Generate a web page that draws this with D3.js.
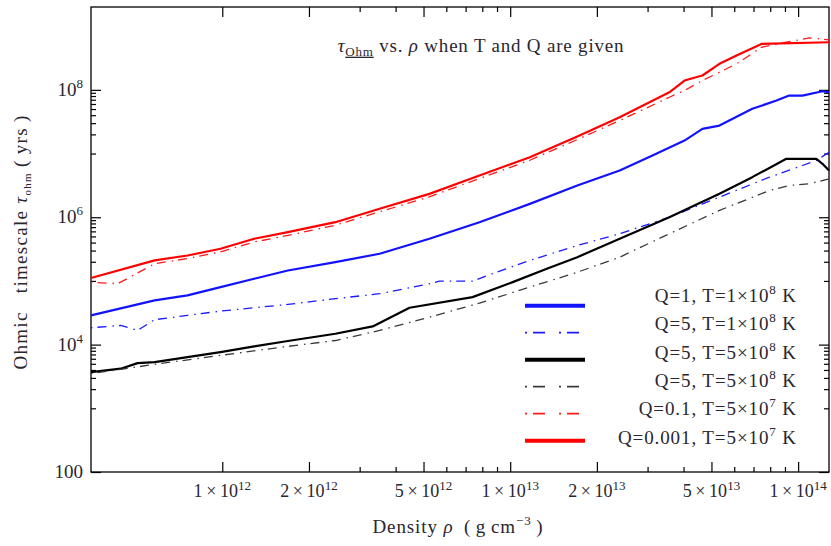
<!DOCTYPE html>
<html>
<head>
<meta charset="utf-8">
<script src="https://cdn.jsdelivr.net/npm/d3@7"></script>
<style>
  body { margin: 0; background: #fff; }
  svg text { font-family: 'Liberation Serif', 'DejaVu Serif', serif; fill: #2a2630; }
</style>
</head>
<body>
<script>
(function () {
    'use strict';

    const width = 831;
    const height = 546;
    const margin = {top: 7, left: 91, right: 2, bottom: 74};

    // series: [density g/cm^3, tau yrs]
    const blueSolid = [
        [3.5e11, 2.88e4], [5.82e11, 4.94e4], [7.57e11, 5.92e4], [9.86e11, 8.0e4],
        [1.29e12, 1.08e5], [1.69e12, 1.46e5], [2.47e12, 1.97e5], [3.52e12, 2.67e5],
        [5.24e12, 4.59e5], [7.82e12, 8.36e5], [1.17e13, 1.62e6], [1.71e13, 3.15e6],
        [2.40e13, 5.42e6], [3.12e13, 9.31e6], [4.03e13, 1.60e7], [4.65e13, 2.44e7],
        [5.33e13, 2.75e7], [6.93e13, 5.04e7], [8.41e13, 6.79e7], [9.31e13, 8.14e7],
        [1.035e14, 8.14e7], [1.215e14, 9.50e7], [1.28e14, 9.17e7]
    ];
    const blueDash = [
        [3.5e11, 1.84e4], [4.44e11, 2.0e4], [5.08e11, 1.67e4], [5.82e11, 2.46e4],
        [7.57e11, 2.88e4], [9.86e11, 3.36e4], [1.29e12, 3.79e4], [1.69e12, 4.28e4],
        [2.47e12, 5.26e4], [3.52e12, 6.3e4], [5.24e12, 9.04e4], [5.68e12, 9.93e4],
        [7.40e12, 9.93e4], [8.95e12, 1.37e5], [1.17e13, 2.10e5], [1.71e13, 3.61e5],
        [2.40e13, 5.5e5], [3.57e13, 1.0e6], [5.33e13, 2.07e6], [7.95e13, 4.26e6],
        [1.035e14, 6.49e6], [1.157e14, 7.78e6], [1.28e14, 1.05e7]
    ];
    const blackSolid = [
        [3.5e11, 3.71e3], [4.44e11, 4.19e3], [5.08e11, 5.13e3], [5.82e11, 5.32e3],
        [7.57e11, 6.37e3], [9.86e11, 7.64e3], [1.29e12, 9.38e3], [1.69e12, 1.14e4],
        [2.47e12, 1.48e4], [3.33e12, 1.93e4], [4.47e12, 3.79e4], [7.40e12, 5.57e4],
        [1.02e13, 9.57e4], [1.34e13, 1.55e5], [1.71e13, 2.36e5], [2.40e13, 4.59e5],
        [3.57e13, 1.0e6], [5.33e13, 2.33e6], [6.93e13, 4.26e6], [9.10e13, 8.26e6],
        [1.035e14, 8.26e6], [1.157e14, 8.26e6], [1.215e14, 6.9e6], [1.28e14, 5.42e6]
    ];
    const blackDash = [
        [3.5e11, 3.50e3], [5.82e11, 4.9e3], [9.86e11, 6.78e3], [1.69e12, 9.38e3],
        [2.47e12, 1.16e4], [3.52e12, 1.67e4], [5.24e12, 2.70e4], [7.82e12, 4.48e4],
        [1.17e13, 8.0e4], [1.71e13, 1.37e5], [2.40e13, 2.36e5], [3.57e13, 5.5e5],
        [5.33e13, 1.28e6], [7.95e13, 2.63e6], [9.31e13, 3.15e6], [1.094e14, 3.35e6],
        [1.28e14, 4.01e6]
    ];
    const redDash = [
        [3.5e11, 9.57e4], [4.33e11, 9.04e4], [5.82e11, 1.86e5], [7.57e11, 2.25e5],
        [9.86e11, 2.85e5], [1.29e12, 4.09e5], [1.69e12, 5.18e5], [2.47e12, 7.5e5],
        [3.52e12, 1.22e6], [5.24e12, 2.09e6], [7.82e12, 4.06e6], [1.17e13, 7.85e6],
        [1.71e13, 1.66e7], [2.40e13, 3.30e7], [3.57e13, 7.66e7], [4.03e13, 9.75e7],
        [4.65e13, 1.40e8], [6.11e13, 2.56e8], [7.46e13, 4.66e8], [9.10e13, 5.59e8],
        [1.094e14, 6.55e8], [1.28e14, 6.09e8]
    ];
    const redSolid = [
        [3.5e11, 1.11e5], [5.82e11, 2.10e5], [7.57e11, 2.51e5], [9.86e11, 3.20e5],
        [1.29e12, 4.59e5], [1.69e12, 5.83e5], [2.47e12, 8.36e5], [3.52e12, 1.36e6],
        [5.24e12, 2.33e6], [7.82e12, 4.52e6], [1.17e13, 8.75e6], [1.71e13, 1.85e7],
        [2.40e13, 3.72e7], [3.57e13, 9.17e7], [4.03e13, 1.40e8], [4.65e13, 1.68e8],
        [5.33e13, 2.56e8], [6.11e13, 3.45e8], [7.46e13, 5.27e8], [1.28e14, 5.59e8]
    ];

    // legend order = series order
    const seriesData = [blueSolid, blueDash, blackSolid, blackDash, redDash, redSolid];
    const seriesColor = ["#1212ff", "#1a1aff", "#000000", "#3a3a3a", "#ff1a1a", "#ff0000"];
    const seriesDashed = [false, true, false, true, true, false];
    const legendQ = ["1", "5", "5", "5", "0.1", "0.001"];
    const legendTMant = ["1", "1", "5", "5", "5", "5"];
    const legendTExp = ["8", "8", "8", "8", "7", "7"];

    const xDomain = [3.5e11, 1.28e14];
    const yDomain = [100, 2e9];
    const xMajor = [1e12, 2e12, 5e12, 1e13, 2e13, 5e13, 1e14];
    const xMinor = [3e12, 4e12, 6e12, 7e12, 8e12, 9e12, 3e13, 4e13, 6e13, 7e13, 8e13, 9e13];
    const yMajor = [1e2, 1e4, 1e6, 1e8];
    const yMinor = [1e3, 2e3, 3e3, 4e3, 5e3, 6e3, 7e3, 8e3, 9e3,
                    1e5, 2e5, 3e5, 4e5, 5e5, 6e5, 7e5, 8e5, 9e5,
                    1e7, 2e7, 3e7, 4e7, 5e7, 6e7, 7e7, 8e7, 9e7];

    const W = width - margin.left - margin.right;
    const H = height - margin.top - margin.bottom;

    const svg = d3.select('body')
        .append('svg')
        .attr('width', width)
        .attr('height', height)
        .attr('font-family', "'Liberation Serif', 'DejaVu Serif', serif");

    const g = svg.append('g')
        .attr('transform', `translate(${margin.left},${margin.top})`);

    const x = d3.scaleLog().domain(xDomain).range([0, W]);
    const y = d3.scaleLog().domain(yDomain).range([H, 0]);

    // ticks on all four sides, pointing inward
    const addAxis = (axis, tr) => {
        const a = g.append('g').attr('transform', tr).call(axis);
        a.select('.domain').remove();
        a.selectAll('line').attr('stroke', '#000').attr('stroke-width', 1.2);
        return a;
    };
    [[10, xMajor], [5, xMinor]].forEach(([len, vals]) => {
        addAxis(d3.axisBottom(x).tickValues(vals).tickSize(-len).tickFormat(''), `translate(0,${H})`);
        addAxis(d3.axisTop(x).tickValues(vals).tickSize(-len).tickFormat(''), 'translate(0,0)');
    });
    [[10, yMajor], [5, yMinor]].forEach(([len, vals]) => {
        addAxis(d3.axisLeft(y).tickValues(vals).tickSize(-len).tickFormat(''), 'translate(0,0)');
        addAxis(d3.axisRight(y).tickValues(vals).tickSize(-len).tickFormat(''), `translate(${W},0)`);
    });

    g.append('rect')
        .attr('width', W).attr('height', H)
        .attr('fill', 'none').attr('stroke', '#000').attr('stroke-width', 1.3);

    // tick labels
    const xl = g.append('g').attr('font-size', 18).attr('text-anchor', 'middle');
    xMajor.forEach(v => {
        const e = Math.floor(Math.log10(v) + 1e-9);
        const m = Math.round(v / Math.pow(10, e));
        const t = xl.append('text').attr('x', x(v)).attr('y', H + 25);
        t.append('tspan').text(m + '\u2009\u00d7\u200910');
        t.append('tspan').attr('font-size', 13).attr('dy', -7).text(e);
    });
    const yl = g.append('g').attr('font-size', 19).attr('text-anchor', 'end');
    yMajor.forEach(v => {
        const e = Math.round(Math.log10(v));
        const t = yl.append('text').attr('x', -8).attr('y', y(v) + 6);
        if (e === 2) {
            t.text('100');
        } else {
            t.append('tspan').text('10');
            t.append('tspan').attr('font-size', 13).attr('dy', -8).text(e);
        }
    });

    // curves
    const line = d3.line().x(d => x(d[0])).y(d => y(d[1]));
    g.append('g').selectAll('path')
        .data(seriesData)
        .enter().append('path')
        .attr('d', line)
        .attr('fill', 'none')
        .attr('stroke', (d, i) => seriesColor[i])
        .attr('stroke-width', (d, i) => seriesDashed[i] ? 1.3 : 2.2)
        .attr('stroke-dasharray', (d, i) => seriesDashed[i] ? '1.5,5,9,6' : null)
        .attr('stroke-linejoin', 'round');

    // title
    const title = g.append('text')
        .attr('x', 390).attr('y', 44.7)
        .attr('text-anchor', 'middle')
        .attr('font-size', 19)
        .attr('letter-spacing', 0.8);
    title.append('tspan').attr('font-style', 'italic').text('\u03c4');
    title.append('tspan').attr('font-size', 13).attr('dy', 4)
        .attr('text-decoration', 'underline').text('Ohm');
    title.append('tspan').attr('dy', -4).text(' vs. ');
    title.append('tspan').attr('font-style', 'italic').text('\u03c1');
    title.append('tspan').text(' when T and Q are given');

    // axis labels
    const xLab = svg.append('text')
        .attr('x', 458).attr('y', 533)
        .attr('text-anchor', 'middle').attr('font-size', 19)
        .attr('letter-spacing', 0.9);
    xLab.append('tspan').text('Density ');
    xLab.append('tspan').attr('font-style', 'italic').text('\u03c1');
    xLab.append('tspan').text('\u2002(\u2009g\u2009cm');
    xLab.append('tspan').attr('font-size', 13).attr('dy', -8).text('\u22123');
    xLab.append('tspan').attr('dy', 8).text('\u2009)');

    const yLab = svg.append('text')
        .attr('transform', 'translate(27,242) rotate(-90)')
        .attr('text-anchor', 'middle').attr('font-size', 19)
        .attr('letter-spacing', 1.3);
    yLab.append('tspan').text('Ohmic\u00a0\u00a0 timescale ');
    yLab.append('tspan').attr('font-style', 'italic').text('\u03c4');
    yLab.append('tspan').attr('font-size', 11).attr('dy', 4).text('ohm');
    yLab.append('tspan').attr('dy', -4).text('\u2009(\u2009yrs\u2009)');

    // legend
    const leg = svg.append('g').attr('font-size', 19).attr('letter-spacing', 0.9);
    seriesData.forEach((d, i) => {
        const ly = 305.7 + i * 27;
        leg.append('line')
            .attr('x1', 525).attr('x2', 585)
            .attr('y1', ly).attr('y2', ly)
            .attr('stroke', seriesColor[i])
            .attr('stroke-width', seriesDashed[i] ? 1.8 : 4)
            .attr('stroke-dasharray', seriesDashed[i] ? '2,6,12,14' : null);
        const t = leg.append('text')
            .attr('x', 797).attr('y', 302 + i * 28.3)
            .attr('text-anchor', 'end');
        t.append('tspan').text(`Q=${legendQ[i]}, T=${legendTMant[i]}\u00d710`);
        t.append('tspan').attr('font-size', 13).attr('dy', -8).text(legendTExp[i]);
        t.append('tspan').attr('dy', 8).text(' K');
    });
}());
</script>
</body>
</html>
